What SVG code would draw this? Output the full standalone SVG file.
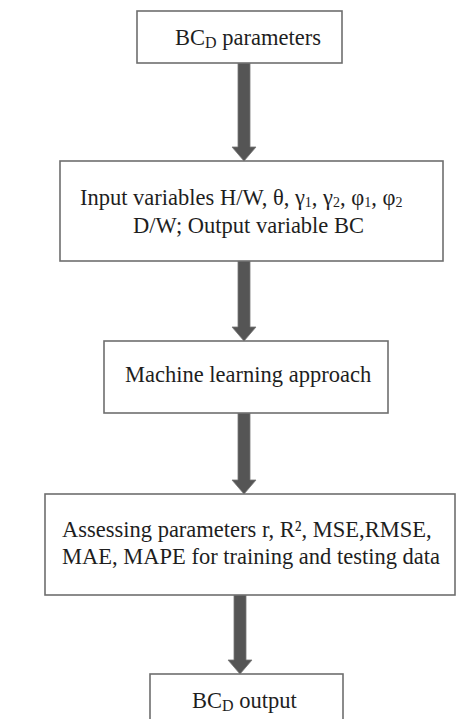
<svg xmlns="http://www.w3.org/2000/svg" width="468" height="719" viewBox="0 0 468 719">
<style>
.box{fill:#fff;stroke:#6e6e6e;stroke-width:1.6}
.t{font-family:"Liberation Serif","Times New Roman",serif;font-size:22.5px;fill:#1e1e1e}
.sub{font-size:16px}
.gs{font-size:14px}
.arr{fill:#555;stroke:#777;stroke-width:0.8}
</style>
<rect width="468" height="719" fill="#fff"/>
<g id="connectors">
<path class="arr" d="M238,63 H250 V147 H256 L244,161 L232,147 H238 Z"/>
<path class="arr" d="M238,261 H250 V327 H256 L244,341 L232,327 H238 Z"/>
<path class="arr" d="M238,413 H250 V480 H256 L244,494 L232,480 H238 Z"/>
<path class="arr" d="M234,595 H246 V660 H252 L240,674 L228,660 H234 Z"/>
</g>
<g id="n1">
<rect class="box" x="137" y="11" width="205" height="52"/>
<text class="t" x="175" y="45">BC<tspan class="sub" dy="3">D</tspan><tspan dy="-3"> parameters</tspan></text>
</g>
<g id="n2">
<rect class="box" x="60" y="161" width="383" height="100"/>
<text class="t" x="80" y="205">Input variables H/W, θ, γ<tspan class="gs" dy="2">1</tspan><tspan dy="-2">, γ</tspan><tspan class="gs" dy="2">2</tspan><tspan dy="-2">, φ</tspan><tspan class="gs" dy="2">1</tspan><tspan dy="-2">, φ</tspan><tspan class="gs" dy="2">2</tspan></text>
<text class="t" x="133" y="233">D/W; Output variable BC</text>
</g>
<g id="n3">
<rect class="box" x="104" y="341" width="284" height="72"/>
<text class="t" x="125" y="382">Machine learning approach</text>
</g>
<g id="n4">
<rect class="box" x="45" y="494" width="410" height="101"/>
<text class="t" x="62" y="537">Assessing parameters r, R², MSE,RMSE,</text>
<text class="t" x="62" y="564">MAE, MAPE for training and testing data</text>
</g>
<g id="n5">
<rect class="box" x="150" y="674" width="193" height="60"/>
<text class="t" x="192" y="708">BC<tspan class="sub" dy="3">D</tspan><tspan dy="-3"> output</tspan></text>
</g>
</svg>
